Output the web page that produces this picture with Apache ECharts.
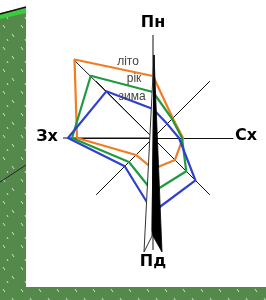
<!DOCTYPE html>
<html>
<head>
<meta charset="utf-8">
<script src="https://cdn.jsdelivr.net/npm/echarts@6/dist/echarts.min.js"></script>
<style>
  html, body { margin: 0; padding: 0; background: #fff; }
  #chart { width: 266px; height: 300px; }
</style>
</head>
<body>
<div id="chart"></div>
<script>
// directions, counter-clockwise from north (radar lays indicators out that way)
var directions = ['Пн', 'Пн-Зх', 'Зх', 'Пд-Зх', 'Пд', 'Пд-Сх', 'Сх', 'Пн-Сх'];
var seriesNames = ['літо', 'рік', 'зима'];
var summer = [62, 111, 76, 24, 31, 31, 30, 28];
var year = [46, 88, 81, 34, 54, 47, 29, 27];
var winter = [29, 66, 85, 40, 74, 60, 26, 20];
var axisMax = 80;

var colors = ['#f07d22', '#1f9a3c', '#2f3fcf'];
var cx = 153, cy = 138;

// little grass texture for the green board behind the sheet
var tex = document.createElement('canvas');
tex.width = 18; tex.height = 22;
var g = tex.getContext('2d');
g.fillStyle = '#55894c';
g.fillRect(0, 0, 18, 22);
g.strokeStyle = 'rgba(235,245,230,0.8)';
g.lineWidth = 1;
g.beginPath();
g.moveTo(3, 3); g.lineTo(5, 6);
g.moveTo(12, 12); g.lineTo(14, 15);
g.moveTo(7, 17); g.lineTo(8, 19);
g.stroke();

var chart = echarts.init(document.getElementById('chart'));

var labelFont = 'bold 16px "DejaVu Sans"';
var nameFont = '12px "Liberation Sans"';

var option = {
  animation: false,
  backgroundColor: '#fff',
  radar: {
    center: [cx, cy],
    radius: 80,
    startAngle: 90,
    splitNumber: 1,
    shape: 'polygon',
    indicator: directions.map(function (d) { return { name: d, max: axisMax, min: 0 }; }),
    axisName: { show: false },
    axisLine: { lineStyle: { color: '#111', width: 1 } },
    splitLine: { show: false },
    splitArea: { show: false },
    axisTick: { show: false },
    axisLabel: { show: false }
  },
  series: [{
    type: 'radar',
    z: 3,
    symbol: 'none',
    data: [
      { name: seriesNames[0], value: summer, lineStyle: { color: colors[0], width: 2.2 } },
      { name: seriesNames[1], value: year, lineStyle: { color: colors[1], width: 2.2 } },
      { name: seriesNames[2], value: winter, lineStyle: { color: colors[2], width: 2.2 } }
    ]
  }],
  graphic: [
    // green board and white sheet
    { type: 'rect', z: 0, silent: true, shape: { x: 0, y: 0, width: 266, height: 300 }, style: { fill: { image: tex, repeat: 'repeat' } } },
    { type: 'rect', z: 0, silent: true, shape: { x: 26, y: 0, width: 240, height: 287 }, style: { fill: '#fff' } },
    { type: 'polygon', z: 0, silent: true, shape: { points: [[0, 0], [26, 0], [26, 7], [0, 13]] }, style: { fill: '#fff' } },
    { type: 'polygon', z: 0, silent: true, shape: { points: [[0, 14], [26, 8], [26, 13], [0, 19]] }, style: { fill: '#3ccb3a' } },
    { type: 'line', z: 0, silent: true, shape: { x1: 0, y1: 14, x2: 26, y2: 7 }, style: { stroke: '#111', lineWidth: 1.5 } },
    { type: 'line', z: 0, silent: true, shape: { x1: 0, y1: 182, x2: 26, y2: 165 }, style: { stroke: '#223', lineWidth: 1 } },
    // longer spokes
    { type: 'line', z: 1, silent: true, shape: { x1: cx, y1: 35, x2: cx, y2: 250 }, style: { stroke: '#111', lineWidth: 1 } },
    { type: 'line', z: 1, silent: true, shape: { x1: cx, y1: cy, x2: 63, y2: cy }, style: { stroke: '#111', lineWidth: 1 } },
    { type: 'line', z: 1, silent: true, shape: { x1: cx, y1: cy, x2: 74, y2: 60 }, style: { stroke: '#111', lineWidth: 1 } },
    // compass needle
    { type: 'polygon', z: 10, silent: true, shape: { points: [[154, 55], [152, 236], [144, 252]] }, style: { fill: '#fff', stroke: '#333', lineWidth: 1 } },
    { type: 'polygon', z: 10, silent: true, shape: { points: [[154, 55], [162, 252], [153, 236], [152, 230]] }, style: { fill: '#000', stroke: '#000', lineWidth: 0.8 } },
    // direction names
    { type: 'text', z: 12, x: 153, y: 23, style: { text: directions[0], font: labelFont, fill: '#000', align: 'center', verticalAlign: 'middle' } },
    { type: 'text', z: 12, x: 47, y: 137, style: { text: directions[2], font: labelFont, fill: '#000', align: 'center', verticalAlign: 'middle' } },
    { type: 'text', z: 12, x: 246, y: 136, style: { text: directions[6], font: labelFont, fill: '#000', align: 'center', verticalAlign: 'middle' } },
    { type: 'text', z: 12, x: 153, y: 262, style: { text: directions[4], font: labelFont, fill: '#000', align: 'center', verticalAlign: 'middle' } },
    // series names near the north spoke
    { type: 'text', z: 12, x: 128, y: 62, style: { text: seriesNames[0], font: nameFont, fill: '#444', align: 'center', verticalAlign: 'middle' } },
    { type: 'text', z: 12, x: 134, y: 79, style: { text: seriesNames[1], font: nameFont, fill: '#444', align: 'center', verticalAlign: 'middle' } },
    { type: 'text', z: 12, x: 132, y: 97, style: { text: seriesNames[2], font: nameFont, fill: '#444', align: 'center', verticalAlign: 'middle' } }
  ]
};

chart.setOption(option);
</script>
</body>
</html>
